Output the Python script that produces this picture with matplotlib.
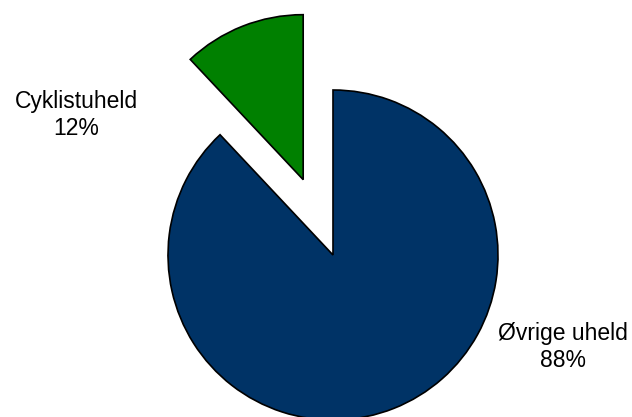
import matplotlib.pyplot as plt

# accident shares
labels = ["Øvrige uheld", "Cyklistuheld"]
shares = [88, 12]
colors = ["#003366", "#008000"]
explode = [0, 81]  # pie() takes this in data units (pixels here)

plt.rcParams['font.family'] = ['Liberation Sans', 'DejaVu Sans']

fig = plt.figure(figsize=(6.32, 4.17), dpi=100)
ax = fig.add_axes([0, 0, 1, 1])
# axes in pixel units, origin bottom-left
ax.set_aspect('equal')
ax.axis('off')

wedges, _ = ax.pie(shares, colors=colors, explode=explode, startangle=90,
                   counterclock=False, radius=165, center=(333, 162),
                   wedgeprops=dict(edgecolor='black', linewidth=1.2))
ax.set_xlim(0, 632)
ax.set_ylim(0, 417)

# label text next to each slice
ax.text(76, 417 - 115, f"{labels[1]}\n{shares[1]}%", ha='center', va='center',
        fontsize=16.5, linespacing=1.25, color='black')
ax.text(563, 417 - 347, f"{labels[0]}\n{shares[0]}%", ha='center', va='center',
        fontsize=16.5, linespacing=1.25, color='black')

fig.savefig("out.png", dpi=100)
